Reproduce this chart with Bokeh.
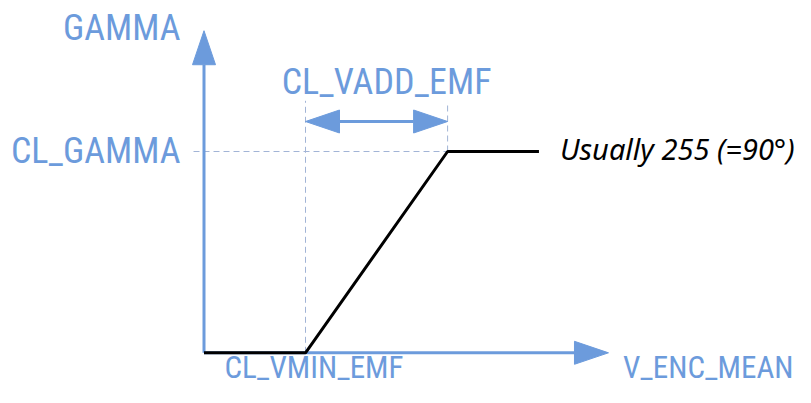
from bokeh.plotting import figure
from bokeh.models import Range1d
from bokeh.embed import file_html
from bokeh.resources import INLINE
from bokeh.core.properties import value

# ---- data (abstract units: x in V_ENC_MEAN units, y in GAMMA units) ----
cl_vmin_emf = 1.0
cl_vadd_emf = 1.4
cl_gamma = 255
curve_x = [0.0, cl_vmin_emf, cl_vmin_emf + cl_vadd_emf, 3.3]
curve_y = [0, 0, cl_gamma, cl_gamma]
x_axis_max = 3.985
y_axis_max = 408
axis_labels = ["GAMMA", "V_ENC_MEAN"]
param_labels = ["CL_GAMMA", "CL_VMIN_EMF", "CL_VADD_EMF"]
note = "Usually 255 (=90°)"

# ---- layout ----
W, H = 795, 387
XS = 101.5      # px per x unit
YS = 0.7894     # px per y unit
OX, OY = 203.5, 34.7  # origin position in canvas px (from left, from bottom)
BLUE = "#6c9bdc"
DASH = "#a2b4d6"
FONT = "Roboto Condensed"
FS = 36
FS_BOTTOM = 31

def px(dx):
    return dx / XS

def py(dy):
    return dy / YS

p = figure(width=W, height=H, output_backend="svg", toolbar_location=None,
           x_range=Range1d(-OX / XS, (W - OX) / XS),
           y_range=Range1d(-OY / YS, (H - OY) / YS),
           min_border=0)
p.axis.visible = False
p.grid.visible = False
p.outline_line_color = None
p.background_fill_color = "white"

head_len, head_half = 34, 11.5

vx = cl_vmin_emf
vx2 = cl_vmin_emf + cl_vadd_emf
p.line([vx, vx], [0, py(252)], line_color=DASH, line_width=1, line_dash="6 4")
p.line([vx2, vx2], [cl_gamma, py(249)], line_color=DASH, line_width=1, line_dash="6 4")
p.line([px(-10.5), vx2], [cl_gamma, cl_gamma], line_color=DASH, line_width=1, line_dash="6 4")

p.line([0, x_axis_max - px(head_len)], [0, 0], line_color=BLUE, line_width=3)
p.line([0, 0], [0, y_axis_max - py(head_len)], line_color=BLUE, line_width=3)
p.patch([x_axis_max, x_axis_max - px(head_len), x_axis_max - px(head_len)],
        [0, py(head_half), py(-head_half)], fill_color=BLUE, line_color=BLUE)
p.patch([0, px(-head_half), px(head_half)],
        [y_axis_max, y_axis_max - py(head_len), y_axis_max - py(head_len)],
        fill_color=BLUE, line_color=BLUE)

ay = py(231.3)
p.line([vx + px(head_len), vx2 - px(head_len)], [ay, ay], line_color=BLUE, line_width=3)
p.patch([vx, vx + px(head_len), vx + px(head_len)],
        [ay, ay + py(head_half), ay - py(head_half)], fill_color=BLUE, line_color=BLUE)
p.patch([vx2, vx2 - px(head_len), vx2 - px(head_len)],
        [ay, ay + py(head_half), ay - py(head_half)], fill_color=BLUE, line_color=BLUE)

p.line(curve_x, curve_y, line_color="black", line_width=3)

def label(x, y, t, align, size=FS):
    shift = 0.4 * size  # renderer places alphabetic baseline this much lower
    p.text([x], [y + py(shift)], text=[t], text_align=align, text_baseline="alphabetic",
           text_color=BLUE, text_font=value(FONT), text_font_size="%dpx" % size)

label(px(-23.5), y_axis_max + py(-12), axis_labels[0], "right")
label(px(-23.5), cl_gamma + py(-14), param_labels[0], "right")
label((vx + vx2) / 2 + px(10), ay + py(25), param_labels[2], "center")
label(vx + px(8.5), py(-27), param_labels[1], "center", FS_BOTTOM)
label(px(W - 2 - OX), py(-27), axis_labels[1], "right", FS_BOTTOM)

p.text([curve_x[-1] + px(21)], [cl_gamma + py(-9 + 12)], text=[note], text_align="left",
       text_baseline="alphabetic", text_color="black", text_font=value("Noto Sans"),
       text_font_style="italic", text_font_size="29px")

open("out.html", "w").write(file_html(p, INLINE))
